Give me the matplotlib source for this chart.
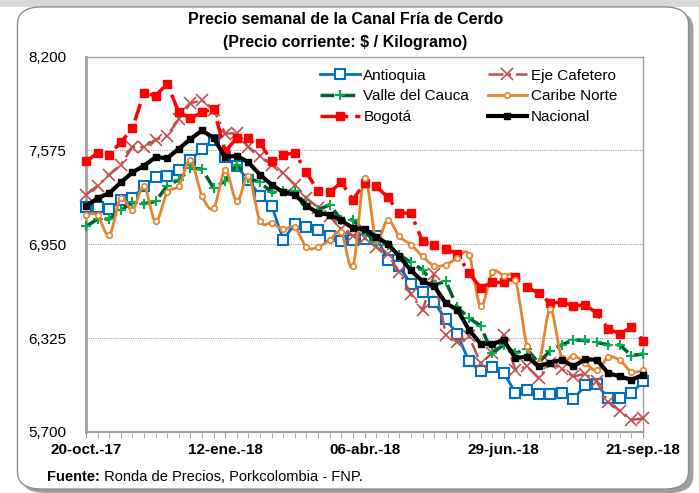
import numpy as np
import matplotlib
matplotlib.use("Agg")
import matplotlib.pyplot as plt
from matplotlib.patches import FancyBboxPatch, Rectangle
from matplotlib.text import Annotation

plt.rcParams['font.family'] = ['Liberation Sans', 'DejaVu Sans']

# weekly prices, 20-oct-17 .. 21-sep-18 ($/kg)
week_labels = ['20-oct.-17', '12-ene.-18', '06-abr.-18', '29-jun.-18', '21-sep.-18']

antioquia = [7198, 7198, 7184, 7242, 7258, 7336, 7398, 7402, 7442, 7513, 7584, 7647,
             7531, 7469, 7376, 7273, 7207, 6980, 7088, 7066, 7046, 7004, 6969, 6978,
             6988, 7002, 6847, 6802, 6687, 6629, 6565, 6449, 6351, 6169, 6107, 6129,
             6091, 5962, 5976, 5953, 5951, 5962, 5918, 6009, 6018, 5924, 5924, 5958, 6036]
eje = [7280, 7340, 7413, 7480, 7598, 7598, 7647, 7673, 7784, 7891, 7909, 7845,
       7688, 7690, 7598, 7538, 7480, 7424, 7345, 7258, 7195, 7136, 7050, 7008,
       6990, 6932, 6885, 6765, 6618, 6510, 6750, 6347, 6300, 6336, 6158, 6224,
       6347, 6113, 6136, 6058, 6158, 6120, 6069, 6087, 6036, 5900, 5840, 5780, 5790]
valle = [7069, 7118, 7118, 7176, 7229, 7220, 7236, 7340, 7380, 7458, 7451, 7324,
         7373, 7480, 7391, 7362, 7296, 7302, 7302, 7213, 7180, 7213, 7113, 7113,
         7036, 6962, 6947, 6880, 6829, 6780, 6680, 6702, 6530, 6458, 6407, 6224,
         6280, 6224, 6250, 6160, 6242, 6280, 6313, 6309, 6296, 6280, 6280, 6207, 6220]
caribe = [7147, 7142, 7009, 7258, 7180, 7336, 7102, 7296, 7340, 7509, 7273, 7191,
          7442, 7236, 7402, 7105, 7091, 7051, 7062, 6931, 6931, 6980, 7029, 6802,
          7391, 6984, 7113, 7002, 6947, 6869, 6808, 6814, 6858, 6880, 6536, 6762,
          6740, 6713, 6273, 6158, 6518, 6191, 6207, 6162, 6109, 6198, 6176, 6102, 6109]
bogota = [7502, 7558, 7547, 7629, 7724, 7958, 7940, 8020, 7829, 7791, 7829, 7851,
          7569, 7658, 7658, 7627, 7502, 7547, 7558, 7429, 7302, 7296, 7364, 7247,
          7358, 7336, 7264, 7158, 7158, 6969, 6945, 6919, 6887, 6758, 6662, 6696,
          6696, 6731, 6664, 6624, 6558, 6564, 6540, 6547, 6491, 6387, 6353, 6398, 6307]
nacional = [7202, 7258, 7291, 7362, 7429, 7473, 7531, 7524, 7587, 7651, 7709, 7658,
            7531, 7540, 7496, 7413, 7347, 7296, 7280, 7207, 7158, 7147, 7109, 7058,
            7051, 6998, 6953, 6869, 6776, 6702, 6672, 6558, 6513, 6380, 6287, 6287,
            6309, 6191, 6202, 6136, 6162, 6180, 6136, 6184, 6180, 6091, 6069, 6047, 6080]

y_ticks = [5700, 6325, 6950, 7575, 8200]


def smooth(x, y, n=12):
    # catmull-rom curve through the points, like Excel's smoothed line
    x = np.asarray(x, float)
    y = np.asarray(y, float)
    px = np.concatenate([[x[0]], x, [x[-1]]])
    py = np.concatenate([[y[0]], y, [y[-1]]])
    xs, ys = [], []
    t = np.linspace(0, 1, n, endpoint=False)
    for i in range(1, len(px) - 2):
        for p, out in ((px, xs), (py, ys)):
            p0, p1, p2, p3 = p[i - 1], p[i], p[i + 1], p[i + 2]
            out.extend(0.5 * (2 * p1 + (-p0 + p2) * t + (2 * p0 - 5 * p1 + 4 * p2 - p3) * t ** 2
                              + (-p0 + 3 * p1 - 3 * p2 + p3) * t ** 3))
    xs.append(x[-1])
    ys.append(y[-1])
    return xs, ys


fig = plt.figure(figsize=(6.99, 4.93), dpi=100)
fig.patch.set_facecolor('white')

# frame with shadow
fig.patches.append(Rectangle((0, 0.985), 1, 0.015, transform=fig.transFigure,
                             facecolor='#d9d9d9', edgecolor='none', zorder=-10))
fig.patches.append(FancyBboxPatch((0.030, 0.0), 0.962, 0.978, transform=fig.transFigure,
                                  boxstyle='round,pad=0,rounding_size=0.035',
                                  facecolor='#a0a0a0', edgecolor='none', zorder=-10))
fig.patches.append(FancyBboxPatch((0.025, 0.008), 0.960, 0.978, transform=fig.transFigure,
                                  boxstyle='round,pad=0,rounding_size=0.035',
                                  facecolor='white', edgecolor='#8c8c8c', lw=1.0, zorder=-9))

ax = fig.add_axes([0.123, 0.124, 0.797, 0.761])
ax.patch.set_alpha(0)
x = np.arange(len(nacional))

ax.plot(x, antioquia, color='#0070C0', lw=2, marker='s', ms=7, mfc='white',
        mec='#0070C0', mew=1.5, label='Antioquia', zorder=3, clip_on=False)
ax.plot(x, eje, color='#C0504D', lw=1.8, ls=(0, (6, 2, 1, 2)), marker='x', ms=8,
        mew=1.2, label='Eje Cafetero', zorder=3, clip_on=False)
ax.plot(x, valle, color='#006030', lw=2.5, ls=(0, (4, 2)), marker='+', ms=7,
        mec='#00B050', mew=1.5, label='Valle del Cauca', zorder=3, clip_on=False)
sx, sy = smooth(x, caribe)
ax.plot(sx, sy, color='#E6832E', lw=2, zorder=3, clip_on=False)
ax.plot(x, caribe, ls='none', marker='o', ms=4, mfc='white', mec='#E6832E', mew=1.2,
        zorder=4, clip_on=False)
ax.plot([], [], color='#E6832E', lw=2, marker='o', ms=4, mfc='white', mec='#E6832E',
        mew=1.2, label='Caribe Norte')
ax.plot(x, bogota, color='#FF0000', lw=2.5, ls=(0, (5, 2, 1, 2)), marker='s', ms=6,
        label='Bogotá', zorder=3, clip_on=False)
ax.plot(x, nacional, color='black', lw=3, marker='s', ms=4, label='Nacional', zorder=5,
        clip_on=False)

ax.set_xlim(0, len(nacional) - 1)
ax.set_ylim(y_ticks[0], y_ticks[-1])
ax.set_yticks(y_ticks)
ax.set_yticklabels([f'{v:,}' for v in y_ticks], fontsize=11)
ax.tick_params(axis='y', length=0, pad=14)
ax.set_xticks(np.arange(0, len(nacional), 12))
ax.set_xticklabels(week_labels, fontsize=11, fontweight='bold')
ax.set_xticks(x, minor=True)
ax.tick_params(axis='x', which='both', length=4, color='#a0a0a0', pad=4)
for v in y_ticks[1:-1]:
    ax.axhline(v, color='#a0a0a0', lw=0.8, ls=(0, (1, 1)), zorder=1)
for s in ax.spines.values():
    s.set_color('#a0a0a0')
    s.set_linewidth(1)
ax.spines['left'].set_linewidth(2)
ax.spines['bottom'].set_linewidth(1.5)

h, l = ax.get_legend_handles_labels()
order = [l.index(n) for n in ['Antioquia', 'Valle del Cauca', 'Bogotá',
                              'Eje Cafetero', 'Caribe Norte', 'Nacional']]
ax.legend([h[i] for i in order], [l[i] for i in order], ncol=2, frameon=False,
          fontsize=11, handlelength=2.6, handletextpad=0.25, columnspacing=1.2,
          labelspacing=0.45, loc='upper left', bbox_to_anchor=(0.395, 1.005))

fig.text(0.494, 0.952, 'Precio semanal de la Canal Fría de Cerdo', ha='center',
         fontsize=11.5, fontweight='bold')
fig.text(0.494, 0.905, '(Precio corriente: $ / Kilogramo)', ha='center',
         fontsize=11.5, fontweight='bold')
t1 = fig.text(0.067, 0.025, 'Fuente:', fontsize=10.5, fontweight='bold')
fig.add_artist(Annotation(' Ronda de Precios, Porkcolombia - FNP.', xy=(1, 0),
                          xycoords=t1, va='bottom', ha='left', fontsize=10.5))

fig.savefig('out.png', dpi=100)
